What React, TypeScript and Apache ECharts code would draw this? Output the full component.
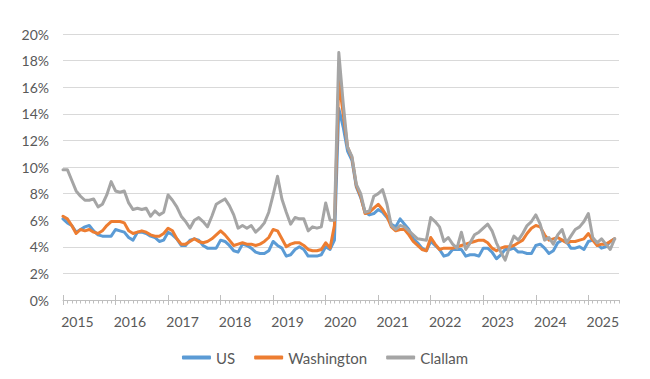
import { useEffect, useRef } from 'react';
import * as echarts from 'echarts';

const yearLabels = ['2015', '2016', '2017', '2018', '2019', '2020', '2021', '2022', '2023', '2024', '2025'];

const usRate = [
  6.1, 5.8, 5.6, 5.1, 5.3, 5.5, 5.6, 5.2, 4.9, 4.8, 4.8, 4.8,
  5.3, 5.2, 5.1, 4.7, 4.5, 5.1, 5.1, 5.0, 4.8, 4.7, 4.4, 4.5,
  5.1, 4.9, 4.6, 4.1, 4.1, 4.5, 4.6, 4.5, 4.1, 3.9, 3.9, 3.9,
  4.5, 4.4, 4.1, 3.7, 3.6, 4.2, 4.1, 3.9, 3.6, 3.5, 3.5, 3.7,
  4.4, 4.1, 3.9, 3.3, 3.4, 3.8, 4.0, 3.8, 3.3, 3.3, 3.3, 3.4,
  4.0, 3.8, 4.5, 14.4, 13.0, 11.2, 10.5, 8.5, 7.7, 6.6, 6.4, 6.5,
  6.8, 6.6, 6.2, 5.7, 5.5, 6.1, 5.7, 5.3, 4.6, 4.3, 3.9, 3.7,
  4.4, 4.1, 3.8, 3.3, 3.4, 3.8, 3.8, 3.8, 3.3, 3.4, 3.4, 3.3,
  3.9, 3.9, 3.6, 3.1, 3.4, 3.8, 3.8, 3.9, 3.6, 3.6, 3.5, 3.5,
  4.1, 4.2, 3.9, 3.5, 3.7, 4.3, 4.5, 4.4, 3.9, 3.9, 4.0, 3.8,
  4.4, 4.5, 4.2, 3.9, 4.0, 4.4, 4.6,
];

const washingtonRate = [
  6.3, 6.1, 5.6, 5.0, 5.3, 5.2, 5.3, 5.1, 5.0, 5.2, 5.6, 5.9,
  5.9, 5.9, 5.8, 5.2, 5.0, 5.1, 5.2, 5.1, 4.9, 4.8, 4.8, 5.0,
  5.4, 5.2, 4.6, 4.2, 4.2, 4.4, 4.6, 4.4, 4.3, 4.4, 4.6, 4.9,
  5.2, 4.9, 4.5, 4.1, 4.2, 4.3, 4.2, 4.2, 4.1, 4.2, 4.4, 4.7,
  5.3, 5.2, 4.6, 4.0, 4.2, 4.3, 4.3, 4.1, 3.8, 3.7, 3.7, 3.8,
  4.3, 3.9, 5.6, 16.5, 14.0, 11.5, 10.7, 8.6, 7.8, 6.5, 6.6, 6.9,
  7.2, 6.8, 6.3, 5.5, 5.2, 5.3, 5.3, 4.9, 4.4, 4.1, 3.8, 3.7,
  4.7, 4.2, 3.8, 3.9, 3.9, 3.9, 4.0, 4.1, 4.2, 4.3, 4.4, 4.5,
  4.5, 4.3, 3.9, 3.7, 3.9, 4.0, 4.0, 4.1, 4.3, 4.5, 5.0, 5.4,
  5.6, 5.5, 4.9, 4.5, 4.6, 4.7, 4.5, 4.3, 4.4, 4.4, 4.5, 4.6,
  5.0, 4.5, 4.1, 4.2, 4.2, 4.4, 4.6,
];

const clallamRate = [
  9.8, 9.8, 9.0, 8.2, 7.8, 7.5, 7.5, 7.6, 7.0, 7.2, 7.9, 8.9,
  8.2, 8.1, 8.2, 7.3, 6.8, 6.9, 6.8, 6.9, 6.3, 6.7, 6.4, 6.6,
  7.9, 7.5, 7.0, 6.3, 5.9, 5.4, 6.0, 6.2, 5.9, 5.5, 6.3, 7.2,
  7.4, 7.6, 7.1, 6.4, 5.4, 5.6, 5.4, 5.6, 5.1, 5.4, 5.8, 6.6,
  7.9, 9.3, 7.6, 6.6, 5.7, 6.2, 6.1, 6.1, 5.2, 5.5, 5.4, 5.5,
  7.3, 6.0, 6.0, 18.6, 14.8, 11.5, 10.8, 8.7, 8.0, 6.6, 6.7, 7.8,
  8.0, 8.3, 7.2, 5.6, 5.3, 5.6, 5.5, 5.2, 4.9, 4.6, 4.55, 4.5,
  6.2, 5.9, 5.5, 4.4, 4.7, 4.2, 3.9, 5.1, 3.8, 4.3, 4.9, 5.1,
  5.4, 5.7, 5.2, 4.3, 3.6, 3.0, 4.0, 4.8, 4.5, 5.0, 5.6, 5.9,
  6.4, 5.7, 4.5, 4.7, 4.2, 4.9, 5.3, 4.3, 4.8, 5.3, 5.5, 5.9,
  6.5, 4.7, 4.3, 4.6, 4.2, 3.8, 4.6,
];

const seriesNames = ['US', 'Washington', 'Clallam'];
const seriesColors = ['#5B9BD5', '#ED7D31', '#A5A5A5'];

export default function App() {
  const ref = useRef<HTMLDivElement>(null);

  useEffect(() => {
    document.body.style.margin = '0';
    const chart = echarts.init(ref.current!, null, { renderer: 'svg' });
    const monthCount = 127;
    const majorTicks = yearLabels.map((_, k) => k * 12);
    const labelOffset = 3.3;
    const labelValues = yearLabels.map((_, k) => k * 12 + labelOffset);
    const monthTicks = Array.from({ length: monthCount + 1 }, (_, i) => i);
    const pairs = (arr: number[]) => arr.map((v, i) => [i, v]);
    const font = 'Lato, "Open Sans", sans-serif';
    const textColor = '#595959';
    const axisColor = '#BFBFBF';

    const baseX = {
      type: 'value',
      min: 0,
      max: monthCount,
      position: 'bottom',
      splitLine: { show: false },
    };

    chart.setOption({
      animation: false,
      grid: { left: 63, right: 31, top: 34, bottom: 79, containLabel: false },
      xAxis: [
        {
          ...baseX,
          axisLine: { show: true, onZero: false, lineStyle: { color: axisColor, width: 1 } },
          axisTick: { show: true, length: 5, customValues: majorTicks, lineStyle: { color: axisColor } },
          axisLabel: {
            show: true,
            customValues: labelValues,
            margin: 14,
            fontSize: 14,
            fontFamily: font,
            color: textColor,
            formatter: (v: number) => yearLabels[Math.round((v - labelOffset) / 12)] ?? '',
          },
        },
        {
          ...baseX,
          axisLine: { show: false, onZero: false },
          axisTick: { show: true, inside: true, length: 5, customValues: majorTicks, lineStyle: { color: axisColor } },
          axisLabel: { show: false },
        },
        {
          ...baseX,
          axisLine: { show: false, onZero: false },
          axisTick: { show: true, length: 3.5, customValues: monthTicks, lineStyle: { color: axisColor } },
          axisLabel: { show: false },
        },
      ],
      yAxis: {
        type: 'value',
        min: 0,
        max: 20,
        interval: 2,
        axisLine: { show: false },
        axisTick: { show: false },
        splitLine: { show: true, lineStyle: { color: '#D9D9D9', width: 1 } },
        axisLabel: {
          formatter: '{value}%',
          margin: 14,
          fontSize: 14,
          fontFamily: font,
          color: textColor,
        },
      },
      legend: {
        data: seriesNames,
        left: 'center',
        top: 345,
        icon: 'roundRect',
        itemWidth: 29,
        itemHeight: 4,
        itemGap: 19,
        textStyle: { fontSize: 15, fontFamily: font, color: textColor },
      },
      series: [usRate, washingtonRate, clallamRate].map((arr, k) => ({
        name: seriesNames[k],
        type: 'line',
        xAxisIndex: 0,
        data: pairs(arr),
        showSymbol: false,
        symbol: 'none',
        color: seriesColors[k],
        lineStyle: { width: 3, color: seriesColors[k], join: 'round', cap: 'round' },
        emphasis: { disabled: true },
      })),
    });

    return () => chart.dispose();
  }, []);

  return <div ref={ref} style={{ width: 650, height: 379 }} />;
}
